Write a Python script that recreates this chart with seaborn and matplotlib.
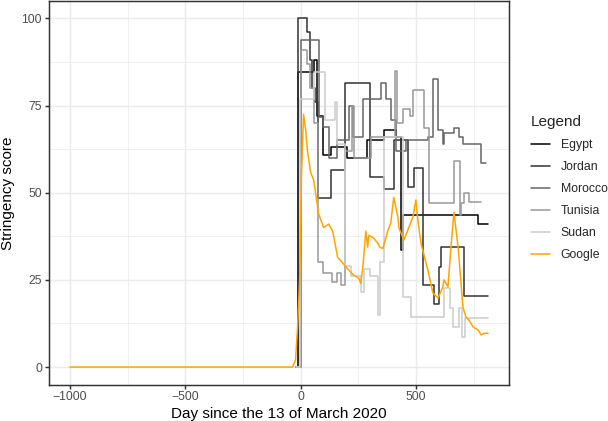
import matplotlib
matplotlib.use("Agg")
import matplotlib.pyplot as plt
from matplotlib.lines import Line2D
import seaborn as sns
import pandas as pd

# ---------------- data ----------------
egypt_day = [-20, -13, 57, 70, 96, 130, 200, 290, 361, 413, 435, 443, 770, 813]
egypt_val = [0, 84.5, 88, 72, 60.7, 63, 60, 65, 68, 66, 33.5, 43.6, 41, 41]

jordan_day = [-20, -9, 26, 39, 48, 61, 74, 130, 191, 300, 361, 404, 465, 491, 530, 578, 600, 609, 709, 813]
jordan_val = [0, 100, 96, 88, 80, 76, 48.4, 56.4, 81.5, 54.5, 51, 65, 51.6, 57, 23.5, 18, 28.6, 34.4, 20.3, 20.3]

morocco_day = [-20, 0, 78, 96, 122, 157, 209, 226, 270, 348, 370, 391, 413, 457, 552, 574, 596, 617, 622, 665, 687, 704, 783, 804]
morocco_val = [0, 93.7, 71.6, 68.8, 60, 65, 75, 66, 77, 81.5, 76.8, 71, 62, 65, 66, 82.5, 68, 64, 67, 68.5, 66, 64, 58.5, 58.5]

tunisia_day = [-20, 4, 30, 43, 57, 74, 96, 135, 157, 174, 191, 222, 230, 304, 409, 418, 443, 474, 487, 535, 557, 665, 691, 696, 709, 730, 783]
tunisia_val = [0, 91, 87, 80, 70, 30, 27, 24.4, 27, 23.5, 62, 75, 60, 66, 85, 70, 74, 72, 79.6, 68.5, 47, 59, 43.5, 47, 50, 47.3, 47.3]

sudan_day = [-20, -4, 57, 104, 148, 157, 191, 217, 261, 274, 300, 335, 344, 361, 443, 478, 622, 648, 661, 687, 700, 713, 813]
sudan_val = [0, 77, 84.5, 71, 76, 64, 29, 26, 21.5, 28, 26, 15, 30, 66, 20, 14.3, 22.6, 17, 11.5, 17, 8.6, 14, 14]

google_day = [-1000, -35, -22, -13, -4, 4, 13, 22, 30, 43, 57, 78, 100, 122, 139, 161, 183, 209, 230, 252,
              261, 270, 283, 291, 296, 317, 335, 343, 357, 378, 391, 404, 422, 426, 448, 465, 487, 500,
              509, 522, 552, 574, 596, 617, 622, 639, 652, 665, 683, 704, 717, 730, 748, 770, 783, 796, 813]
google_val = [0, 0, 2, 11.5, 25, 55, 72.5, 68, 62, 56, 53.6, 44, 40, 41, 39, 31.5, 29.8, 27.8, 26.4, 25.5,
              24, 28.7, 39, 34.4, 37.8, 37, 35.5, 34.4, 34, 39, 41.3, 48.7, 43, 40, 36.4, 39.3, 43, 47.9,
              42, 35.5, 27.8, 21.2, 19.8, 23, 25, 23, 34.4, 44.4, 34.4, 17.2, 14.3, 13.5, 11.5, 10.6, 9.2, 9.7, 9.7]

series_names = ["Egypt", "Jordan", "Morocco", "Tunisia", "Sudan", "Google"]
series_colors = ["#000000", "#333333", "#666666", "#999999", "#cccccc", "#FFA500"]

# ---------------- figure ----------------
sns.set_theme(style="white")
plt.rcParams["font.family"] = ["Liberation Sans", "DejaVu Sans"]

DPI = 100
fig = plt.figure(figsize=(608 / DPI, 421 / DPI), dpi=DPI)
ax = fig.add_axes([49 / 608, 1 - 384.5 / 421, (509 - 49) / 608, (384.5 - 1) / 421])

countries = [
    ("Egypt", egypt_day, egypt_val),
    ("Jordan", jordan_day, jordan_val),
    ("Morocco", morocco_day, morocco_val),
    ("Tunisia", tunisia_day, tunisia_val),
    ("Sudan", sudan_day, sudan_val),
]
color_map = dict(zip(series_names, series_colors))

for name, d, v in countries:
    df = pd.DataFrame({"day": d, "score": v})
    sns.lineplot(data=df, x="day", y="score", ax=ax, color=color_map[name],
                 drawstyle="steps-post", linewidth=1.1, estimator=None, sort=False)

gdf = pd.DataFrame({"day": google_day, "score": google_val})
sns.lineplot(data=gdf, x="day", y="score", ax=ax, color=color_map["Google"],
             linewidth=1.1, estimator=None, sort=False)

ax.set_xlim(-1090.65, 903.65)
ax.set_ylim(-5, 105)
ax.set_xticks([-1000, -500, 0, 500])
ax.set_yticks([0, 25, 50, 75, 100])
ax.set_xticks([-750, -250, 250, 750], minor=True)
ax.set_yticks([12.5, 37.5, 62.5, 87.5], minor=True)
ax.grid(True, which="major", color="#EBEBEB", linewidth=1.07)
ax.grid(True, which="minor", color="#EBEBEB", linewidth=0.53)
ax.set_axisbelow(True)
for s in ax.spines.values():
    s.set_color("#333333")
    s.set_linewidth(1.07)
ax.tick_params(axis="both", which="major", length=2.75, width=1.07, color="#333333",
               labelsize=8.8, labelcolor="#4D4D4D", pad=2.2, bottom=True, left=True)
ax.tick_params(axis="both", which="minor", length=0)
ax.set_xlabel("Day since the 13 of March 2020", fontsize=11, color="black", labelpad=2.5)
ax.set_ylabel("Stringency score", fontsize=11, color="black", labelpad=5)

handles = [Line2D([0], [0], color=c, lw=1.1) for c in series_colors]
leg = fig.legend(handles, series_names, title="Legend", loc="upper left",
                 bbox_to_anchor=(530 / 608, 1 - 114 / 421), frameon=False,
                 fontsize=8.8, title_fontsize=11, handlelength=1.55,
                 labelspacing=0.82, handletextpad=0.85, borderaxespad=0, borderpad=0.1)
leg._legend_box.align = "left"

fig.savefig("out.png", dpi=DPI)
